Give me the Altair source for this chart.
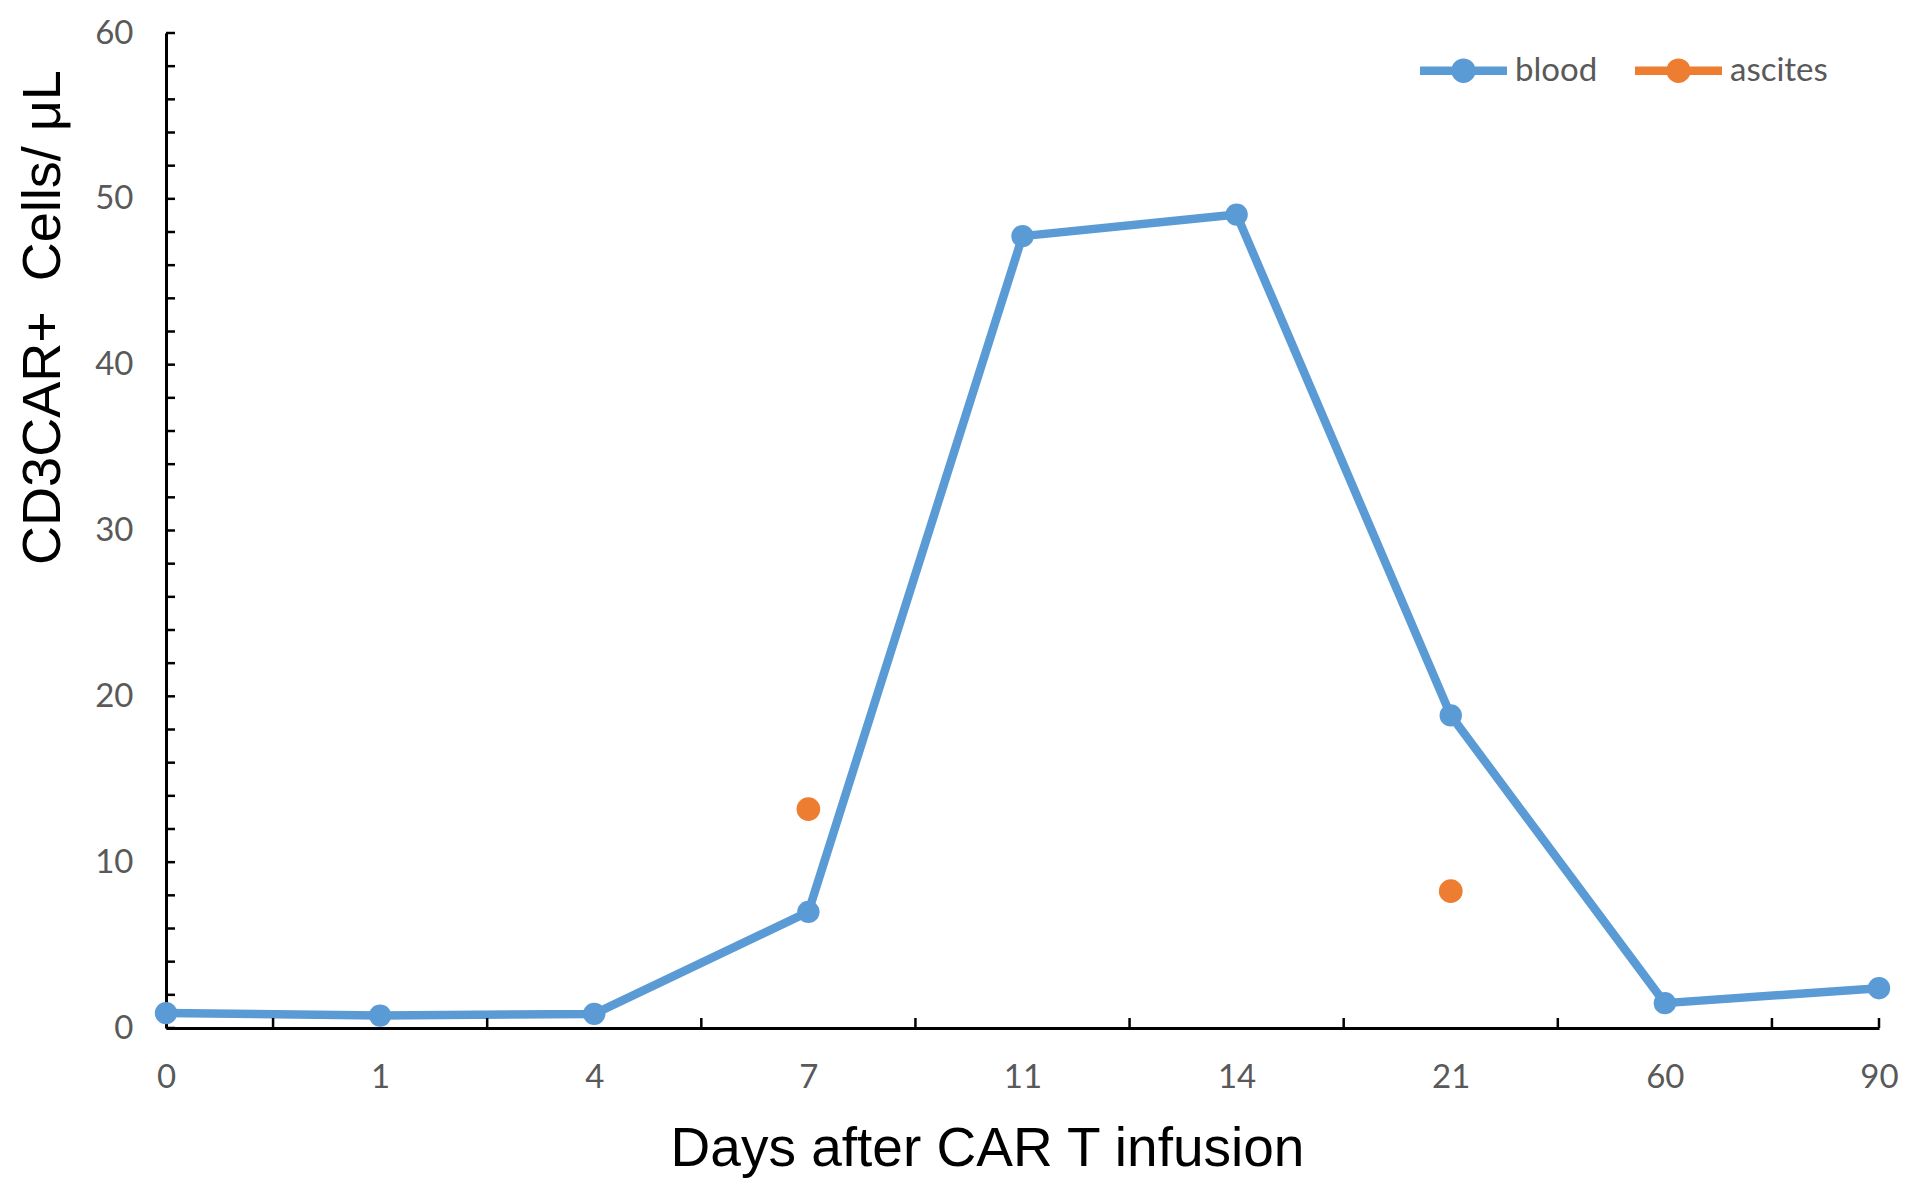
import altair as alt
import pandas as pd
import json

# ---- data ----
days = ["0", "1", "4", "7", "11", "14", "21", "60", "90"]
blood = [0.9, 0.75, 0.85, 7.0, 47.75, 49.05, 18.85, 1.5, 2.4]
ascites_days = ["7", "21"]
ascites = [13.2, 8.25]
series = ["blood", "ascites"]
colors = ["#5B9BD5", "#ED7D31"]
y_major = [0, 10, 20, 30, 40, 50, 60]
y_minor = list(range(0, 61, 2))

W, H = 1713, 995
n = len(days)

blood_df = pd.DataFrame({"idx": list(range(n)), "day": days, "value": blood, "series": "blood"})
asc_df = pd.DataFrame({"idx": [days.index(d) for d in ascites_days], "day": ascites_days,
                       "value": ascites, "series": "ascites"})
ytick_df = pd.DataFrame({"value": y_minor})
xtick_df = pd.DataFrame({"idx": [i + 0.5 for i in range(n - 1)] + [n - 1]})

xscale = alt.Scale(domain=[0, n - 1], nice=False, zero=False)
yscale = alt.Scale(domain=[0, 60], nice=False)

label_expr = json.dumps(days) + "[datum.value]"

x_axis = alt.Axis(values=list(range(n)), labelExpr=label_expr, title="Days after CAR T infusion",
                  labelPadding=33, labelFlush=False, titlePadding=28, titleX=821,
                  titleFontSize=55, tickSize=0, ticks=False, grid=False,
                  domainColor="black", domainWidth=3)
y_axis = alt.Axis(values=y_major, title="CD3CAR+\u00a0 Cells/ \u03bcL", labelPadding=33,
                  titlePadding=24, titleY=284, tickSize=0, ticks=False, grid=False,
                  domainColor="black", domainWidth=3)

line = alt.Chart(blood_df).mark_line(color=colors[0], strokeWidth=8.5, strokeCap="round",
                                     strokeJoin="round").encode(
    x=alt.X("idx:Q", scale=xscale, axis=x_axis),
    y=alt.Y("value:Q", scale=yscale, axis=y_axis),
)

color_enc = alt.Color("series:N", scale=alt.Scale(domain=series, range=colors),
                      legend=alt.Legend(
                          orient="none", legendX=1254, legendY=-6, direction="horizontal",
                          title=None,
                          symbolType="M-1,-0.1L1,-0.1L1,0.1L-1,0.1Z"
                                     "M0.28,0A0.28,0.28 0 1,1 -0.28,0A0.28,0.28 0 1,1 0.28,0Z",
                          symbolSize=7569, symbolStrokeWidth=0, symbolOpacity=1,
                          labelFont="Lato", labelFontSize=33, labelColor="#595959",
                          labelOffset=8, columnPadding=37))

blood_pts = alt.Chart(blood_df).mark_circle(size=500, opacity=1).encode(
    x=alt.X("idx:Q", scale=xscale),
    y=alt.Y("value:Q", scale=yscale),
    color=color_enc,
)
asc_pts = alt.Chart(asc_df).mark_circle(size=560, opacity=1).encode(
    x=alt.X("idx:Q", scale=xscale),
    y=alt.Y("value:Q", scale=yscale),
    color=color_enc,
)

yticks = alt.Chart(ytick_df).mark_rule(color="black", strokeWidth=2.5).encode(
    y=alt.Y("value:Q", scale=yscale),
    x=alt.value(0), x2=alt.value(9),
)
xticks = alt.Chart(xtick_df).mark_rule(color="black", strokeWidth=2.5).encode(
    x=alt.X("idx:Q", scale=xscale),
    y=alt.value(H), y2=alt.value(H - 10),
)

chart = alt.layer(line, yticks, xticks, blood_pts, asc_pts).properties(
    width=W, height=H,
    autosize=alt.AutoSizeParams(type="none"),
    padding={"left": 158, "top": 25, "right": 34, "bottom": 160},
    background="white",
).configure_view(stroke=None).configure_axis(
    labelFont="Lato", labelFontSize=33, labelColor="#595959",
    titleFont="Liberation Sans", titleFontSize=54, titleColor="black", titleFontWeight="normal",
)

chart.save("out.html", embed_options={"renderer": "svg", "actions": False})
